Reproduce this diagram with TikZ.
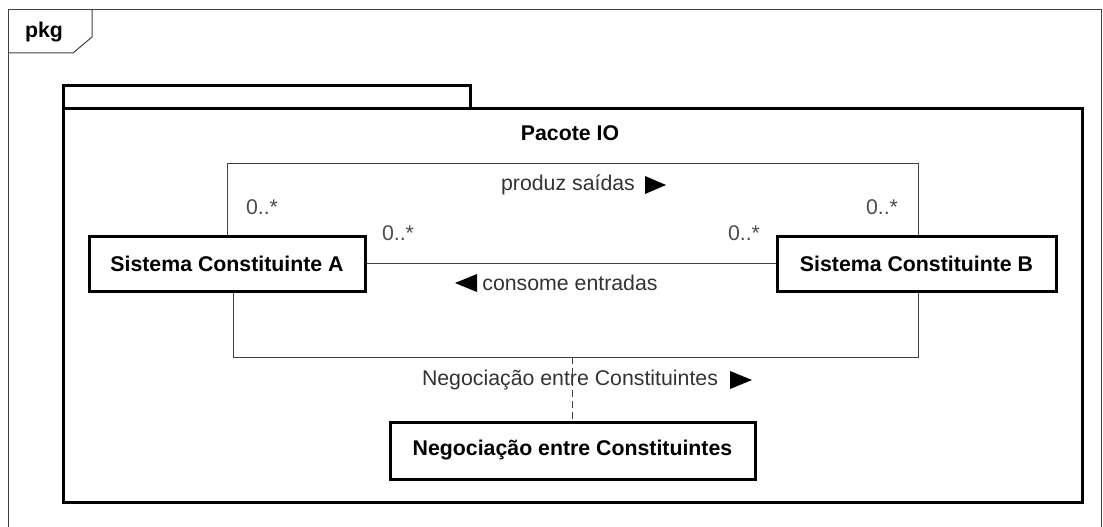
\documentclass[tikz,border=0pt]{standalone}
\usepackage{fontspec}
\setmainfont{Liberation Sans}
\usetikzlibrary{positioning}
\newcommand{\umlfont}{\fontsize{21.3}{25}\selectfont}
\tikzset{
  thinline/.style={draw=black!75, line width=1pt},
  thickline/.style={draw=black, line width=3pt},
  classbox/.style={draw=black, line width=3pt, fill=white, inner sep=0pt, font=\umlfont\bfseries},
  asslabel/.style={text=black!80, inner sep=1pt, font=\umlfont},
  multlabel/.style={text=black!70, inner sep=1pt, font=\umlfont},
  arrowtri/.style={fill=black}
}
\begin{document}
\begin{tikzpicture}[x=1pt, y=-1pt]
      \useasboundingbox (0,0) rectangle (1103,527);
      % outer frame
      \draw[thinline](8, 527) to (8, 10) to (1101, 10) to (1101, 527);
      \draw[thinline](8, 53) to (73, 53) to (92, 37) to (92, 10);
      \node[font=\umlfont\bfseries] (pkg) at (44, 32){pkg};

      % package
      \draw[thickline](63, 108) rectangle (470, 85);
      \draw[thickline](63, 108) rectangle (1082, 502);
      \node[font=\umlfont\bfseries] (pacote) at (570, 133){Pacote IO};

      % classes
      \node[classbox, minimum width=276pt, minimum height=55pt] (sisA) at (227, 263.5){Sistema Constituinte A};
      \node[classbox, minimum width=279pt, minimum height=55pt] (sisB) at (916.5, 263.5){Sistema Constituinte B};
      \node[classbox, minimum width=365pt, minimum height=57pt] (neg) at (572.5, 450.5){Negociação entre Constituintes};

      % produz saidas
      \coordinate (topA) at (227, 163);
      \coordinate (topB) at (918, 163);
      \draw[thinline](sisA.north -| topA) to (topA) to (topB) to (sisB.north -| topB);
      \node[asslabel] (produz) at (568, 185){produz saídas};
      \fill[arrowtri](645, 176) -- (666, 185) -- (645, 194) -- cycle;
      \node[multlabel] (mA1) at (262, 207){0..*};
      \node[multlabel] (mB1) at (882, 207){0..*};

      % consome entradas
      \draw[thinline](sisA.east) to (sisB.east -| sisB.west);
      \node[asslabel] (consome) at (570, 283){consome entradas};
      \fill[arrowtri](477, 274) -- (455, 283) -- (477, 292) -- cycle;
      \node[multlabel] (mA2) at (398, 233){0..*};
      \node[multlabel] (mB2) at (744, 233){0..*};

      % negociacao
      \coordinate (botA) at (233, 357);
      \coordinate (botB) at (918, 357);
      \coordinate (negjoin) at (572, 357);
      \draw[thinline](sisA.south -| botA) to (botA) to (botB) to (sisB.south -| botB);
      \draw[thinline, dash pattern=on 7pt off 4pt](negjoin) to (neg.north -| negjoin);
      \node[asslabel] (negl) at (570, 380){Negociação entre Constituintes};
      \fill[arrowtri](730, 371) -- (752, 380) -- (730, 389) -- cycle;
    \end{tikzpicture}
\end{document}
